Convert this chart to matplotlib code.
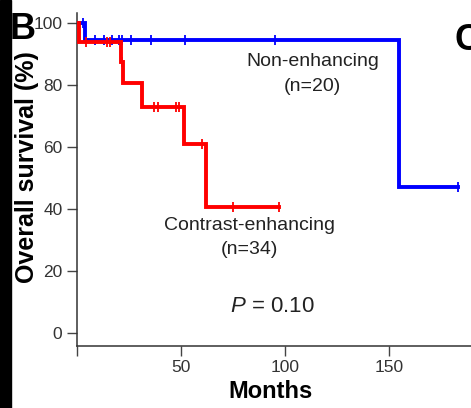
import matplotlib
matplotlib.use("Agg")
import matplotlib.pyplot as plt
from matplotlib.patches import Rectangle
import numpy as np

plt.rcParams['font.family'] = ['Liberation Sans', 'DejaVu Sans']
plt.rcParams['mathtext.fontset'] = 'custom'
plt.rcParams['mathtext.it'] = 'Liberation Sans:italic'
plt.rcParams['mathtext.rm'] = 'Liberation Sans'

# Kaplan-Meier step data (months, % surviving)
non_enh_times = [0, 4, 155, 183]
non_enh_surv = [100, 94.4, 47, 47]
non_enh_cens_t = [2.8, 8.6, 13, 17, 20, 21.5, 26, 35.5, 52, 95, 183]
non_enh_cens_s = [100, 94.4, 94.4, 94.4, 94.4, 94.4, 94.4, 94.4, 94.4, 94.4, 47]

enh_times = [0, 1, 21, 22, 31.3, 51.5, 62, 97]
enh_surv = [100, 93.8, 87.5, 80.6, 73, 61, 40.5, 40.5]
enh_cens_t = [4.5, 14.5, 16, 21.5, 37, 39, 47.6, 49, 60, 75, 97]
enh_cens_s = [93.8, 93.8, 93.8, 87.5, 73, 73, 73, 73, 61, 40.5, 40.5]

x_ticks = [0, 50, 100, 150]
x_tick_labels = ['', '50', '100', '150']
y_ticks = [0, 20, 40, 60, 80, 100]

W, H = 471, 408
fig = plt.figure(figsize=(W / 100, H / 100), dpi=100)
ax = fig.add_axes([77 / W, 1 - 346 / H, 1 - 77 / W, (346 - 13) / H])
ax.set_xlim(0, 189.4)
ax.set_ylim(-4.2, 103.2)

blue = '#0000ff'
red = '#ff0000'

ax.step(non_enh_times, non_enh_surv, where='post', color=blue, lw=2.8,
        solid_joinstyle='miter', zorder=3)
ax.plot(non_enh_cens_t, non_enh_cens_s, ls='none', marker='|', ms=7,
        mew=1.3, color=blue, zorder=3)
ax.step(enh_times, enh_surv, where='post', color=red, lw=2.8,
        solid_joinstyle='miter', zorder=4)
ax.plot(enh_cens_t, enh_cens_s, ls='none', marker='|', ms=7,
        mew=1.3, color=red, zorder=4)

txt = '#222222'
ax.text(113.5, 87.4, 'Non-enhancing', ha='center', va='center', fontsize=14, color=txt)
ax.text(113, 79.4, '(n=20)', ha='center', va='center', fontsize=14, color=txt)
ax.text(82.9, 34.8, 'Contrast-enhancing', ha='center', va='center', fontsize=14, color=txt)
ax.text(82.7, 26.8, '(n=34)', ha='center', va='center', fontsize=14, color=txt)
ax.text(94, 8.7, r'$\mathit{P}$ = 0.10', ha='center', va='center', fontsize=16, color=txt)

for side in ('top', 'right'):
    ax.spines[side].set_visible(False)
for side in ('left', 'bottom'):
    ax.spines[side].set_color('#333333')
    ax.spines[side].set_linewidth(1.1)

ax.set_xticks(x_ticks)
ax.set_xticklabels(x_tick_labels)
ax.set_yticks(y_ticks)
ax.tick_params(direction='out', length=7, width=1.0, color='#444444',
               labelsize=12.5, labelcolor='#333333')
ax.tick_params(axis='y', pad=3.5)
ax.tick_params(axis='x', pad=3)

ax.set_ylabel('Overall survival (%)', fontsize=18, fontweight='bold', va='center')
ax.yaxis.set_label_coords(-0.127, 0.5375)
ax.set_xlabel('Months', fontsize=17, fontweight='bold', va='center')
ax.xaxis.set_label_coords(0.492, -0.138)

# panel letters and left edge bar
fig.add_artist(Rectangle((0, 0), 11 / W, 1, transform=fig.transFigure,
                         color='black', zorder=5))
fig.text(10 / W, 1 - 39 / H, 'B', fontsize=26, fontweight='bold', ha='left',
         va='baseline', color='black', zorder=6)
fig.text(455 / W, 1 - 50 / H, 'C', fontsize=26, fontweight='bold', ha='left',
         va='baseline', color='black')

fig.savefig('out.png', dpi=100)
